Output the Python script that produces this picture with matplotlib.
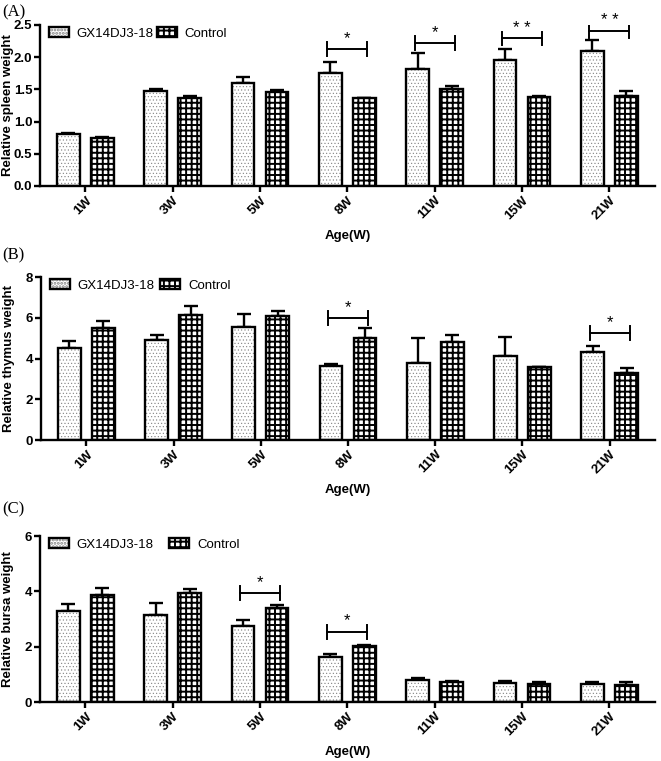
import matplotlib
matplotlib.use('Agg')
import matplotlib.pyplot as plt
import numpy as np

plt.rcParams['font.family'] = ['Liberation Sans', 'DejaVu Sans']
plt.rcParams['hatch.linewidth'] = 1.4

ages = ['1W', '3W', '5W', '8W', '11W', '15W', '21W']

# (A) spleen
spleen_gx = [0.80, 1.48, 1.60, 1.76, 1.82, 1.95, 2.10]
spleen_gx_err = [0.02, 0.02, 0.09, 0.17, 0.25, 0.18, 0.17]
spleen_ctrl = [0.75, 1.36, 1.46, 1.36, 1.50, 1.38, 1.40]
spleen_ctrl_err = [0.01, 0.03, 0.03, 0.0, 0.06, 0.01, 0.07]
spleen_sig = [(3, 2.13, '*'), (4, 2.22, '*'), (5, 2.29, '* *'), (6, 2.41, '* *')]

# (B) thymus
thymus_gx = [4.51, 4.90, 5.53, 3.61, 3.79, 4.13, 4.31]
thymus_gx_err = [0.37, 0.25, 0.67, 0.11, 1.21, 0.92, 0.30]
thymus_ctrl = [5.49, 6.12, 6.08, 5.02, 4.79, 3.56, 3.28]
thymus_ctrl_err = [0.35, 0.44, 0.26, 0.50, 0.36, 0.0, 0.23]
thymus_sig = [(3, 5.98, '*'), (6, 5.25, '*')]

# (C) bursa
bursa_gx = [3.30, 3.15, 2.74, 1.62, 0.81, 0.69, 0.65]
bursa_gx_err = [0.23, 0.43, 0.24, 0.10, 0.07, 0.07, 0.06]
bursa_ctrl = [3.88, 3.94, 3.41, 2.01, 0.72, 0.66, 0.63]
bursa_ctrl_err = [0.24, 0.13, 0.10, 0.05, 0.05, 0.06, 0.08]
bursa_sig = [(2, 3.94, '*'), (3, 2.54, '*')]


def draw_panel(ax, gx, gx_err, ctrl, ctrl_err, sig, ymax, ystep, ylabel, fmt, colspace):
    x = np.arange(len(ages))
    w = 0.26
    off = 0.195
    # fine grey dots first, black outline on top
    with plt.rc_context({'hatch.linewidth': 0.4}):
        b1 = ax.bar(x - off, gx, w, color='white', edgecolor='0.5', hatch='.....', linewidth=0, zorder=2)
    for p in b1:
        if hasattr(p, 'set_hatch_linewidth'):
            p.set_hatch_linewidth(0.4)
    b1o = ax.bar(x - off, gx, w, color='none', edgecolor='black', linewidth=1.7, zorder=3)
    b2 = ax.bar(x + off, ctrl, w, color='white', edgecolor='black', hatch='+++', linewidth=1.7, zorder=2)
    ax.errorbar(x - off, gx, yerr=[np.zeros(len(gx)), gx_err], fmt='none', ecolor='black',
                elinewidth=1.7, capsize=5, capthick=1.7, zorder=1)
    ax.errorbar(x + off, ctrl, yerr=[np.zeros(len(ctrl)), ctrl_err], fmt='none', ecolor='black',
                elinewidth=1.7, capsize=5, capthick=1.7, zorder=1)

    h = 0.043 * ymax
    for i, y, lab in sig:
        x0, x1 = i - 0.23, i + 0.23
        ax.plot([x0, x1], [y, y], color='black', lw=1.4, zorder=4)
        ax.plot([x0, x0], [y - h, y + h], color='black', lw=1.4, zorder=4)
        ax.plot([x1, x1], [y - h, y + h], color='black', lw=1.4, zorder=4)
        ax.text(i, y + 0.065 * ymax, lab, ha='center', va='center', fontsize=12)

    ax.set_xlim(-0.52, 6.52)
    ax.set_ylim(0, ymax)
    yt = np.arange(0, ymax + ystep / 2, ystep)
    ax.set_yticks(yt)
    ax.set_yticklabels([fmt.format(v) for v in yt], fontweight='bold', fontsize=9.5)
    ax.set_xticks(x)
    ax.set_xticklabels(ages, rotation=45, ha='right', va='top', rotation_mode='anchor',
                       fontweight='bold', fontsize=9.5)
    ax.spines['top'].set_visible(False)
    ax.spines['right'].set_visible(False)
    ax.spines['left'].set_linewidth(1.7)
    ax.spines['bottom'].set_linewidth(1.7)
    ax.tick_params(width=1.7, length=4, pad=2)
    ax.tick_params(axis='y', pad=1.5)
    ax.set_ylabel(ylabel, fontweight='bold', fontsize=9.5)
    ax.yaxis.set_label_coords(-0.042, 0.5)
    ax.set_xlabel('Age(W)', fontweight='bold', fontsize=9.5, labelpad=6)
    ax.legend([(b1, b1o), b2], ['GX14DJ3-18', 'Control'], loc='upper left', ncol=2,
              frameon=False, fontsize=9.5, handlelength=1.5, handleheight=0.8,
              columnspacing=colspace, handletextpad=0.6,
              bbox_to_anchor=(-0.005, 1.06), borderaxespad=0.5)


fig = plt.figure(figsize=(6.61, 7.61), dpi=100)
axA = fig.add_axes([0.0605, 0.7556, 0.930, 0.2116])
axB = fig.add_axes([0.0620, 0.4218, 0.929, 0.2142])
axC = fig.add_axes([0.0605, 0.0775, 0.930, 0.2180])

draw_panel(axA, spleen_gx, spleen_gx_err, spleen_ctrl, spleen_ctrl_err, spleen_sig,
           2.5, 0.5, 'Relative spleen weight', '{:.1f}', 0.25)
draw_panel(axB, thymus_gx, thymus_gx_err, thymus_ctrl, thymus_ctrl_err, thymus_sig,
           8, 2, 'Relative thymus weight', '{:.0f}', 0.45)
draw_panel(axC, bursa_gx, bursa_gx_err, bursa_ctrl, bursa_ctrl_err, bursa_sig,
           6, 2, 'Relative bursa weight', '{:.0f}', 1.2)

for lab, y in [('(A)', 0.984), ('(B)', 0.664), ('(C)', 0.330)]:
    fig.text(0.004, y, lab, fontsize=12, family='Liberation Serif', va='center', ha='left')

fig.savefig('out.png', dpi=100)
